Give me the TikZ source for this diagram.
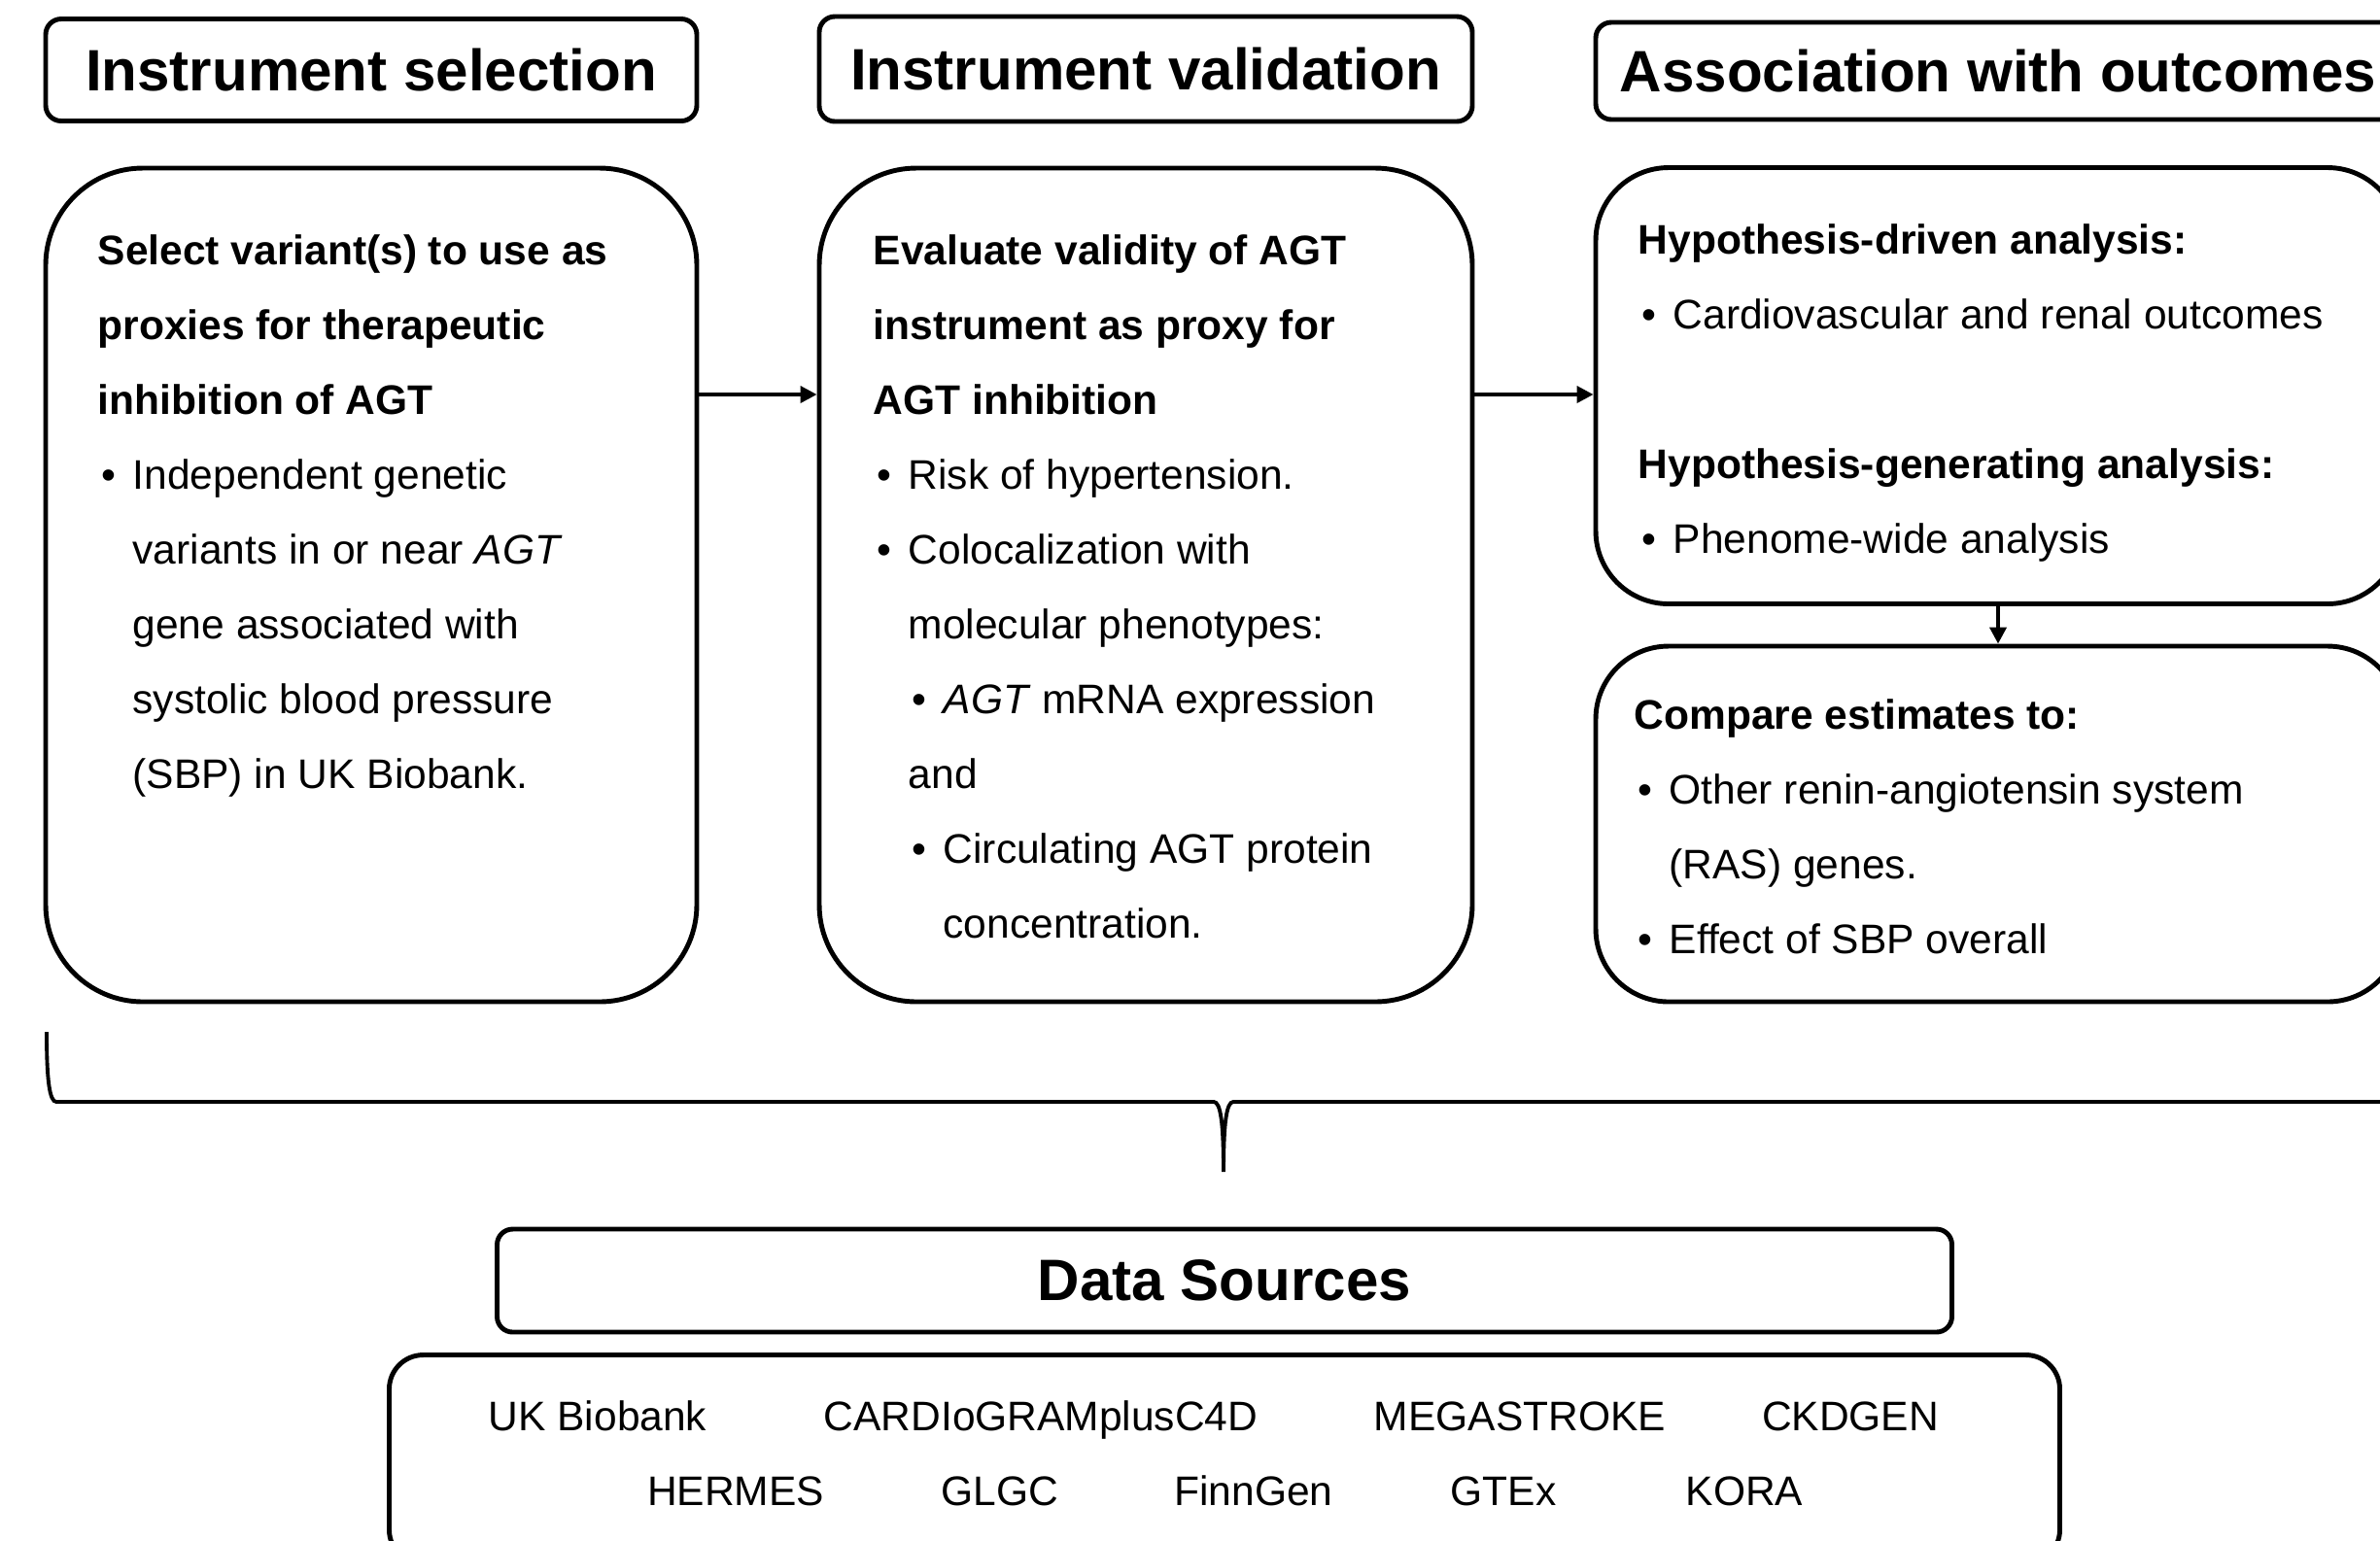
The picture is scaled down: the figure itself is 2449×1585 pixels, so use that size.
\documentclass[tikz,border=0pt]{standalone}
\usepackage{fontspec}
\setmainfont{Liberation Sans}
\usetikzlibrary{arrows.meta}

\newcommand{\bul}{\makebox[3.6mm][l]{\hspace{0.4mm}\textbullet}}
\newcommand{\ind}{\hspace*{3.6mm}}

\tikzset{
  titlebox/.style={draw, line width=1.4pt, rounded corners=1.6mm, inner sep=0pt,
    font=\fontsize{17.1}{20}\selectfont\bfseries},
  mainbox/.style={draw, line width=1.4pt, rounded corners=10mm, inner sep=0pt},
  sidebox/.style={mainbox, rounded corners=7.5mm},
  boxtext/.style={anchor=north west, inner sep=0pt, align=left,
    font=\fontsize{12.1}{21.9}\selectfont},
  source/.style={anchor=base, inner sep=0pt, font=\fontsize{12.1}{14}\selectfont},
  arr/.style={line width=1.1pt, -{Triangle[length=1.7mm,width=1.7mm]}},
}

\begin{document}
\begin{tikzpicture}[x=0.1mm, y=-0.1mm]
\useasboundingbox (0,0) rectangle (2449,1585);
\fill[white] (0,0) rectangle (2449,1585);
\clip (0,0) rectangle (2449,1585);

% step titles
\node[titlebox, minimum width=67mm, minimum height=10.5mm] (t1) at (382,72) {Instrument selection};
\node[titlebox, minimum width=67.2mm, minimum height=10.8mm] (t2) at (1179,71) {Instrument validation};
\node[titlebox, minimum width=82.8mm, minimum height=10mm] (t3) at (2056,73) {Association with outcomes};

% step boxes
\node[mainbox, minimum width=67mm, minimum height=85.8mm] (b1) at (382,602) {};
\node[mainbox, minimum width=67.2mm, minimum height=85.8mm] (b2) at (1179,602) {};
\node[sidebox, minimum width=82.8mm, minimum height=44.9mm] (b3) at (2056,397) {};
\node[sidebox, minimum width=82.8mm, minimum height=36.6mm] (b4) at (2056,848) {};

\node[boxtext] (b1text) at (100,241) {\textbf{Select variant(s) to use as}\\
  \textbf{proxies for therapeutic}\\
  \textbf{inhibition of AGT}\\
  \bul Independent genetic\\
  \ind variants in or near \textit{AGT}\\
  \ind gene associated with\\
  \ind systolic blood pressure\\
  \ind (SBP) in UK Biobank.};

\node[boxtext] (b2text) at (898,241) {\textbf{Evaluate validity of AGT}\\
  \textbf{instrument as proxy for}\\
  \textbf{AGT inhibition}\\
  \bul Risk of hypertension.\\
  \bul Colocalization with\\
  \ind molecular phenotypes:\\
  \ind\bul \textit{AGT} mRNA expression\\
  \ind and\\
  \ind\bul Circulating AGT protein\\
  \ind\ind concentration.};

\node[boxtext] (b3text) at (1685,230) {\textbf{Hypothesis-driven analysis:}\\
  \bul Cardiovascular and renal outcomes\\[7.7mm]
  \textbf{Hypothesis-generating analysis:}\\
  \bul Phenome-wide analysis};

\node[boxtext] (b4text) at (1681,719) {\textbf{Compare estimates to:}\\
  \bul Other renin-angiotensin system\\
  \ind (RAS) genes.\\
  \bul Effect of SBP overall};

% arrows between steps
\coordinate (arrowrow) at (0,406);
\draw[arr] (b1.east |- arrowrow) -- (b2.west |- arrowrow);
\draw[arr] (b2.east |- arrowrow) -- (b3.west |- arrowrow);
\draw[arr] (b3.south) -- (b4.north);

% brace over the data sources
\draw[line width=1.1pt] (48,1062) .. controls (48,1112) and (51,1134) .. (58,1134)
  -- (1249,1134) .. controls (1256,1134) and (1259,1156) .. (1259,1206)
  .. controls (1259,1156) and (1262,1134) .. (1269,1134)
  -- (2460,1134) .. controls (2467,1134) and (2470,1112) .. (2470,1062);

% data sources
\node[titlebox, minimum width=149.7mm, minimum height=10.6mm] (ds) at (1260,1318) {Data Sources};
\node[mainbox, rounded corners=3.5mm, minimum width=171.9mm, minimum height=21.5mm] (dsbox) at (1260,1502) {};

\foreach \lbl/\xx [count=\i] in {UK Biobank/615, CARDIoGRAMplusC4D/1071, MEGASTROKE/1564, CKDGEN/1904}
  \node[source] (srcA\i) at (\xx,1472) {\lbl};
\foreach \lbl/\xx [count=\i] in {HERMES/757, GLGC/1029, FinnGen/1290, GTEx/1547, KORA/1795}
  \node[source] (srcB\i) at (\xx,1549) {\lbl};
\end{tikzpicture}
\end{document}
